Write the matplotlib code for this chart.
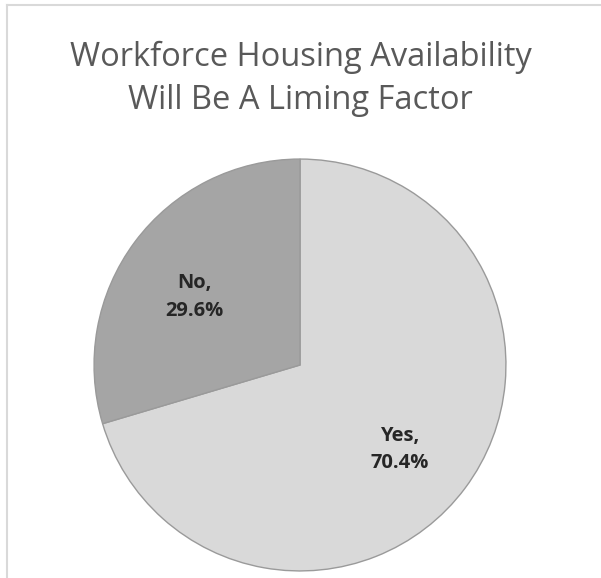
import numpy as np
import matplotlib
matplotlib.use("Agg")
import matplotlib.pyplot as plt
from matplotlib.lines import Line2D

# Dados do gráfico
categorias = ["Yes", "No"]
percentuais = [70.4, 29.6]
cores = ["#d9d9d9", "#a5a5a5"]
titulo = "Workforce Housing Availability\nWill Be A Liming Factor"

W, H = 601, 578
fig = plt.figure(figsize=(W / 100, H / 100), dpi=100)
fig.patch.set_facecolor("white")

# Borda do gráfico (apenas topo e esquerda visíveis no recorte)
fig.add_artist(Line2D([6.5 / W, 1.0], [1 - 4.5 / H, 1 - 4.5 / H],
                      color="#d9d9d9", linewidth=1.5))
fig.add_artist(Line2D([6.5 / W, 6.5 / W], [0.0, 1 - 4.5 / H],
                      color="#d9d9d9", linewidth=1.5))

# Eixo da pizza: centro em (300, 365) px, raio ~208 px
cx, cy, r = 300, 365, 208
ax = fig.add_axes([(cx - r) / W, (H - cy - r) / H, 2 * r / W, 2 * r / H])
wedges, _ = ax.pie(
    percentuais,
    colors=cores,
    startangle=90,
    counterclock=False,
    radius=1.0,
    wedgeprops=dict(edgecolor="#9a9a9a", linewidth=1.0),
)
ax.set_xlim(-1.01, 1.01)
ax.set_ylim(-1.01, 1.01)
ax.axis("off")

# Rótulos dentro das fatias
for w, cat, p in zip(wedges, categorias, percentuais):
    ang = np.deg2rad((w.theta1 + w.theta2) / 2)
    x = 0.62 * np.cos(ang) - 0.015
    y = 0.62 * np.sin(ang) - 0.04
    ax.text(x, y, f"{cat},\n{p:.1f}%", ha="center", va="center",
            fontsize=14.5, fontweight="bold", color="#262626",
            family="Open Sans", linespacing=1.5)

fig.text(0.5, 1 - 79 / H, titulo, ha="center", va="center",
         fontsize=23.5, color="#595959", family="Open Sans", linespacing=1.4)

plt.savefig("out.png", dpi=100, facecolor="white")
plt.close("all")
